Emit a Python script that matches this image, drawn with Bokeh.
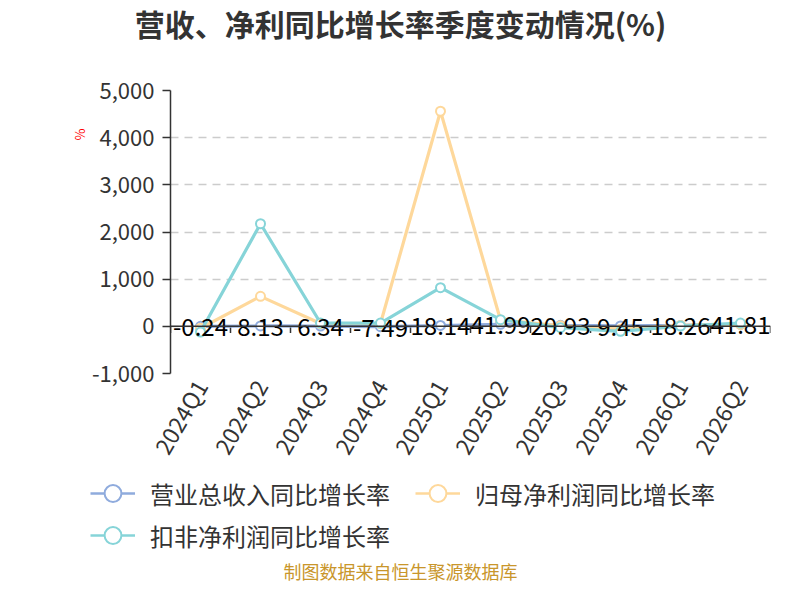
import math
from bokeh.plotting import figure
from bokeh.models import (FactorRange, Range1d, FixedTicker, NumeralTickFormatter,
                          Span, Legend, LegendItem, Title, Label)
from bokeh.embed import file_html
from bokeh.resources import INLINE
from bokeh.core.properties import value

quarters = ["2024Q1", "2024Q2", "2024Q3", "2024Q4", "2025Q1",
            "2025Q2", "2025Q3", "2025Q4", "2026Q1", "2026Q2"]
revenue_yoy = [-0.24, 8.13, 6.34, -7.49, 18.14, 41.99, 20.93, 9.45, 18.26, 41.81]
netprofit_yoy = [-40, 636, 60, 60, 4560, 135, 10, -60, 20, 40]
deducted_yoy = [-120, 2175, 70, 70, 820, 142, -28, -106, 6, 70]
y_ticks = [-1000, 0, 1000, 2000, 3000, 4000, 5000]

series_names = ["营业总收入同比增长率", "归母净利润同比增长率", "扣非净利润同比增长率"]
colors = ["#8fabdd", "#fed89b", "#86d4d8"]
title_text = "营收、净利同比增长率季度变动情况(%)"
footer_text = "制图数据来自恒生聚源数据库"

FONT = "Noto Sans CJK SC"
W = 784
H_TOP, H_MAIN, H_BOT = 60, 411, 113


def blank_fig(h):
    f = figure(width=W, height=h, x_range=Range1d(0, W), y_range=Range1d(0, h),
               output_backend="svg", toolbar_location=None, min_border=0,
               x_axis_location=None, y_axis_location=None)
    f.outline_line_color = None
    f.grid.grid_line_color = None
    return f


# ---- title strip
top = blank_fig(H_TOP)
top.add_layout(Label(x=400, y=H_TOP - 22, text=title_text, text_font=FONT,
                     text_font_size="30px", text_font_style="bold", text_color="#333333",
                     text_align="center", text_baseline="middle"))

# ---- main chart
p = figure(width=W, height=H_MAIN, x_range=FactorRange(*quarters, range_padding=0),
           y_range=Range1d(-1000, 5000), output_backend="svg", toolbar_location=None,
           min_border_left=170, min_border_right=14, min_border_top=30, min_border_bottom=98)
p.outline_line_color = None
p.xgrid.grid_line_color = None
p.ygrid.grid_line_color = "#cccccc"
p.ygrid.grid_line_dash = "8 6"
p.ygrid.grid_line_width = 1.3

ya = p.yaxis[0]
ya.ticker = FixedTicker(ticks=y_ticks)
ya.formatter = NumeralTickFormatter(format="0,0")
ya.major_label_text_font = FONT
ya.major_label_text_font_size = "22px"
ya.major_label_text_color = "#333333"
ya.axis_line_color = "#333333"
ya.axis_line_width = 1.5
ya.major_tick_line_color = "#333333"
ya.major_tick_line_width = 1.5
ya.major_tick_out = 8
ya.major_tick_in = 0
ya.minor_tick_line_color = None
ya.major_label_standoff = 8

xa = p.xaxis[0]
xa.axis_line_color = None
xa.major_tick_line_color = None
xa.minor_tick_line_color = None
xa.major_label_orientation = math.pi / 3
xa.major_label_text_font = FONT
xa.major_label_text_font_size = "23px"
xa.major_label_text_color = "#333333"
xa.major_label_standoff = 2

p.add_layout(Title(text="%", align="right", offset=38, standoff=0,
                   text_font=FONT, text_font_size="13px", text_font_style="normal",
                   text_color="red"), "left")

# zero axis line with ticks at category boundaries
p.add_layout(Span(location=0, dimension="width", line_color="#333333", line_width=1.5))
bounds = list(range(len(quarters) + 1))
p.segment(x0=bounds, y0=[0] * len(bounds), x1=bounds, y1=[-140] * len(bounds),
          line_color="#333333", line_width=1.5)

for vals, col in zip([revenue_yoy, netprofit_yoy, deducted_yoy], colors):
    p.line(quarters, vals, line_color=col, line_width=3.2)
    p.scatter(quarters, vals, size=9, fill_color="white", line_color=col, line_width=2)

p.text(x=quarters, y=revenue_yoy, text=[f"{v:.2f}" for v in revenue_yoy],
       text_font=value(FONT), text_font_size="24px", text_align="center",
       text_baseline="middle", text_color="black", y_offset=1)

# ---- legend + footer strip (legend glyph proxies are hidden renderers)
bot = blank_fig(H_BOT)
leg_r = []
for col in colors:
    lr = bot.line([0, 1], [0, 0], line_color=col, line_width=2.5, visible=False)
    sr = bot.scatter([0], [0], fill_color="white", line_color=col, line_width=2,
                     visible=False)
    leg_r.append([lr, sr])


def mk_legend(idx, loc):
    items = [LegendItem(label=series_names[i], renderers=leg_r[i]) for i in idx]
    lg = Legend(items=items, orientation="horizontal", location=loc,
                glyph_width=45, glyph_height=42, label_standoff=15, spacing=25,
                padding=0, margin=0, border_line_color=None, background_fill_alpha=0,
                label_text_font=FONT, label_text_font_size="24px",
                label_text_color="#333333", label_height=42)
    bot.add_layout(lg)


mk_legend([0, 1], (90, 70))
mk_legend([2], (90, 28))

bot.add_layout(Label(x=400, y=14, text=footer_text, text_font=FONT,
                     text_font_size="18px", text_color="#c9962b",
                     text_align="center", text_baseline="middle"))

open("out.html", "w").write(file_html([top, p, bot], INLINE))
